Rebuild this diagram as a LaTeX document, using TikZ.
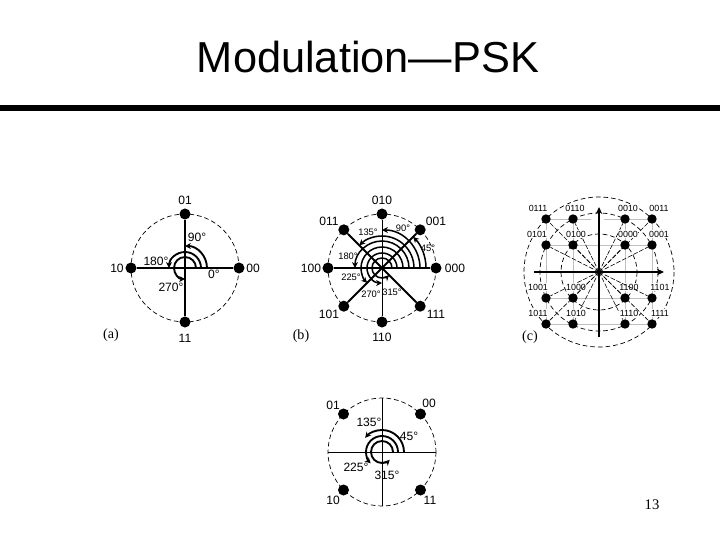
\documentclass[tikz,border=0pt]{standalone}
\usepackage{fontspec}
\setmainfont{Liberation Sans}
\newfontfamily\seriffont{Liberation Serif}
\usetikzlibrary{arrows.meta}
\tikzset{
    phasedot/.style={circle,fill=black,inner sep=0pt,minimum size=9.4pt},
    griddot/.style={circle,fill=black,inner sep=0pt,minimum size=8pt},
    axisline/.style={line width=1.7pt},
    thinaxis/.style={line width=0.85pt},
    gridline/.style={gray!50,line width=0.7pt},
    spokeline/.style={line width=0.5pt,dash pattern=on 4pt off 1.5pt},
    ringline/.style={line width=0.6pt,dash pattern=on 4pt off 2.5pt},
    phasearc/.style={line width=1.6pt,-{Stealth[length=5pt,width=5pt]}},
    lab/.style={font=\fontsize{10.3}{12}\selectfont,inner sep=0pt},
    smalllab/.style={font=\fontsize{8}{9}\selectfont,inner sep=0pt},
    tinylab/.style={font=\fontsize{7.6}{8}\selectfont,inner sep=0pt},
    caplab/.style={font=\seriffont\fontsize{12}{14}\selectfont,inner sep=0pt},
}
\begin{document}
\begin{tikzpicture}[x=0.3mm,y=-0.3mm,>=stealth]
    \useasboundingbox (0,0) rectangle (720,540);

    \node[font=\fontsize{37}{40}\selectfont,inner sep=0pt] (title) at (368,57) {Modulation—PSK};
    \fill (0,105) rectangle (720,111);

    % (a)
    \begin{scope}[shift={(185,268)}]
        \draw[ringline] (0,0) circle (54);
        \node[phasedot] (a00) at (0:54) {};
        \node[phasedot] (a01) at (0,-54) {};
        \node[phasedot] (a10) at (-54,0) {};
        \node[phasedot] (a11) at (0,54) {};
        \draw[axisline] (a10) -- (a00);
        \draw[axisline] (a01) -- (a11);
        \draw[phasearc] (22,0) arc[start angle=0,end angle=-90,radius=22];
        \draw[phasearc] (16,0) arc[start angle=0,end angle=-180,radius=16];
        \draw[phasearc] (11,0) arc[start angle=0,end angle=-270,radius=11];
        \node[lab] at (0,-68) {01};
        \node[lab] at (0,70) {11};
        \node[lab] at (-68,0) {10};
        \node[lab] at (68,0) {00};
        \node[lab] at (12,-31) {90°};
        \node[lab] at (-29,-7) {180°};
        \node[lab] at (29,6) {0°};
        \node[lab] at (-14,19) {270°};
        \node[caplab] at (-74,67) {(a)};
    \end{scope}

    % (b)
    \begin{scope}[shift={(382,268)}]
        \draw[ringline] (0,0) circle (54);
        \foreach \ang/\lab in {0/000,-45/001,-90/010,-135/011,180/100,135/101,90/110,45/111}
            \node[phasedot] (b\lab) at (\ang:54) {};
        \draw[axisline] (b100) -- (b000);
        \draw[thinaxis] (b010) -- (b110);
        \draw[axisline] (b011) -- (b111);
        \draw[axisline] (b101) -- (b001);
        \foreach \rad/\ang in {44/-45,38/-90,32/-135,27/-180,21/-225,15/-270,10/-315}
            \draw[phasearc,line width=1.3pt] (\rad,0) arc[start angle=0,end angle=\ang,radius=\rad];
        \node[lab] at (0,-68) {010};
        \node[lab] at (-53,-47) {011};
        \node[lab] at (54,-47) {001};
        \node[lab] at (-71,0) {100};
        \node[lab] at (73,0) {000};
        \node[lab] at (-53,46) {101};
        \node[lab] at (54,46) {111};
        \node[lab] at (0,69) {110};
        \node[smalllab] at (-14,-36) {135°};
        \node[smalllab] at (21,-40) {90°};
        \node[smalllab] at (46,-20) {45°};
        \node[smalllab] at (-34,-12) {180°};
        \node[smalllab] at (-31,9) {225°};
        \node[smalllab] at (-11,26) {270°};
        \node[smalllab] at (10,24) {315°};
        \node[caplab] at (-81,68) {(b)};
    \end{scope}

    % (c)
    \begin{scope}[shift={(599,272)}]
        \foreach \x in {-53,-26,26,53} {
            \draw[gridline] (\x,-53) -- (\x,52);
        }
        \foreach \y in {-27,26,52}
            \draw[gridline] (-53,\y) -- (53,\y);
        \draw[gridline] (-53,-53) -- (-8,-53);
        \draw[gridline] (5,-53) -- (53,-53);
        \foreach \rad in {38,59,75}
            \draw[ringline] (0,0) circle (\rad);
        \foreach \x/\y/\lx/\lab in {-53/-53/-61/0111,-26/-53/-24/0110,26/-53/29/0010,53/-53/60/0011,
                                    -53/-27/-62/0101,-26/-27/-23/0100,26/-27/29/0000,53/-27/60/0001,
                                    -53/26/-61/1001,-26/26/-23/1000,26/26/30/1100,53/26/61/1101,
                                    -53/52/-61/1011,-26/52/-23/1010,26/52/30/1110,53/52/61/1111} {
            \node[griddot] (c\lab) at (\x,\y) {};
            \draw[spokeline] (0,0) -- (c\lab);
            \node[tinylab,fill=white,inner sep=0.4pt] at (\lx,\y-11) {\lab};
        }
        \draw[axisline,-{Stealth[length=6pt,width=5.5pt]}] (-65,0) -- (65,0);
        \draw[axisline,-{Stealth[length=6pt,width=5.5pt]}] (0,65) -- (0,-65);
        \node[caplab] at (-69,65) {(c)};
    \end{scope}

    % (d)
    \begin{scope}[shift={(382,452)}]
        \draw[ringline] (0,0) circle (54);
        \draw[thinaxis] (-54,0) -- (54,0);
        \draw[thinaxis] (0,-54) -- (0,54);
        \node[phasedot] (d00) at (38.5,-38) {};
        \node[phasedot] (d01) at (-38.5,-38) {};
        \node[phasedot] (d10) at (-38.5,38) {};
        \node[phasedot] (d11) at (38.5,38) {};
        \draw[phasearc] (22,0) arc[start angle=0,end angle=-140,radius=22];
        \draw[phasearc] (16,0) arc[start angle=0,end angle=-225,radius=16];
        \draw[phasearc] (11,0) arc[start angle=0,end angle=-315,radius=11];
        \node[lab] at (47,-49) {00};
        \node[lab] at (-49,-47) {01};
        \node[lab] at (-49,48) {10};
        \node[lab] at (48,48) {11};
        \node[lab] at (-13,-30) {135°};
        \node[lab] at (27,-16) {45°};
        \node[lab] at (-26,15) {225°};
        \node[lab] at (5,23) {315°};
    \end{scope}

    \node[font=\seriffont\fontsize{12.5}{14}\selectfont,inner sep=0pt] (page) at (652,505) {13};
\end{tikzpicture}
\end{document}
